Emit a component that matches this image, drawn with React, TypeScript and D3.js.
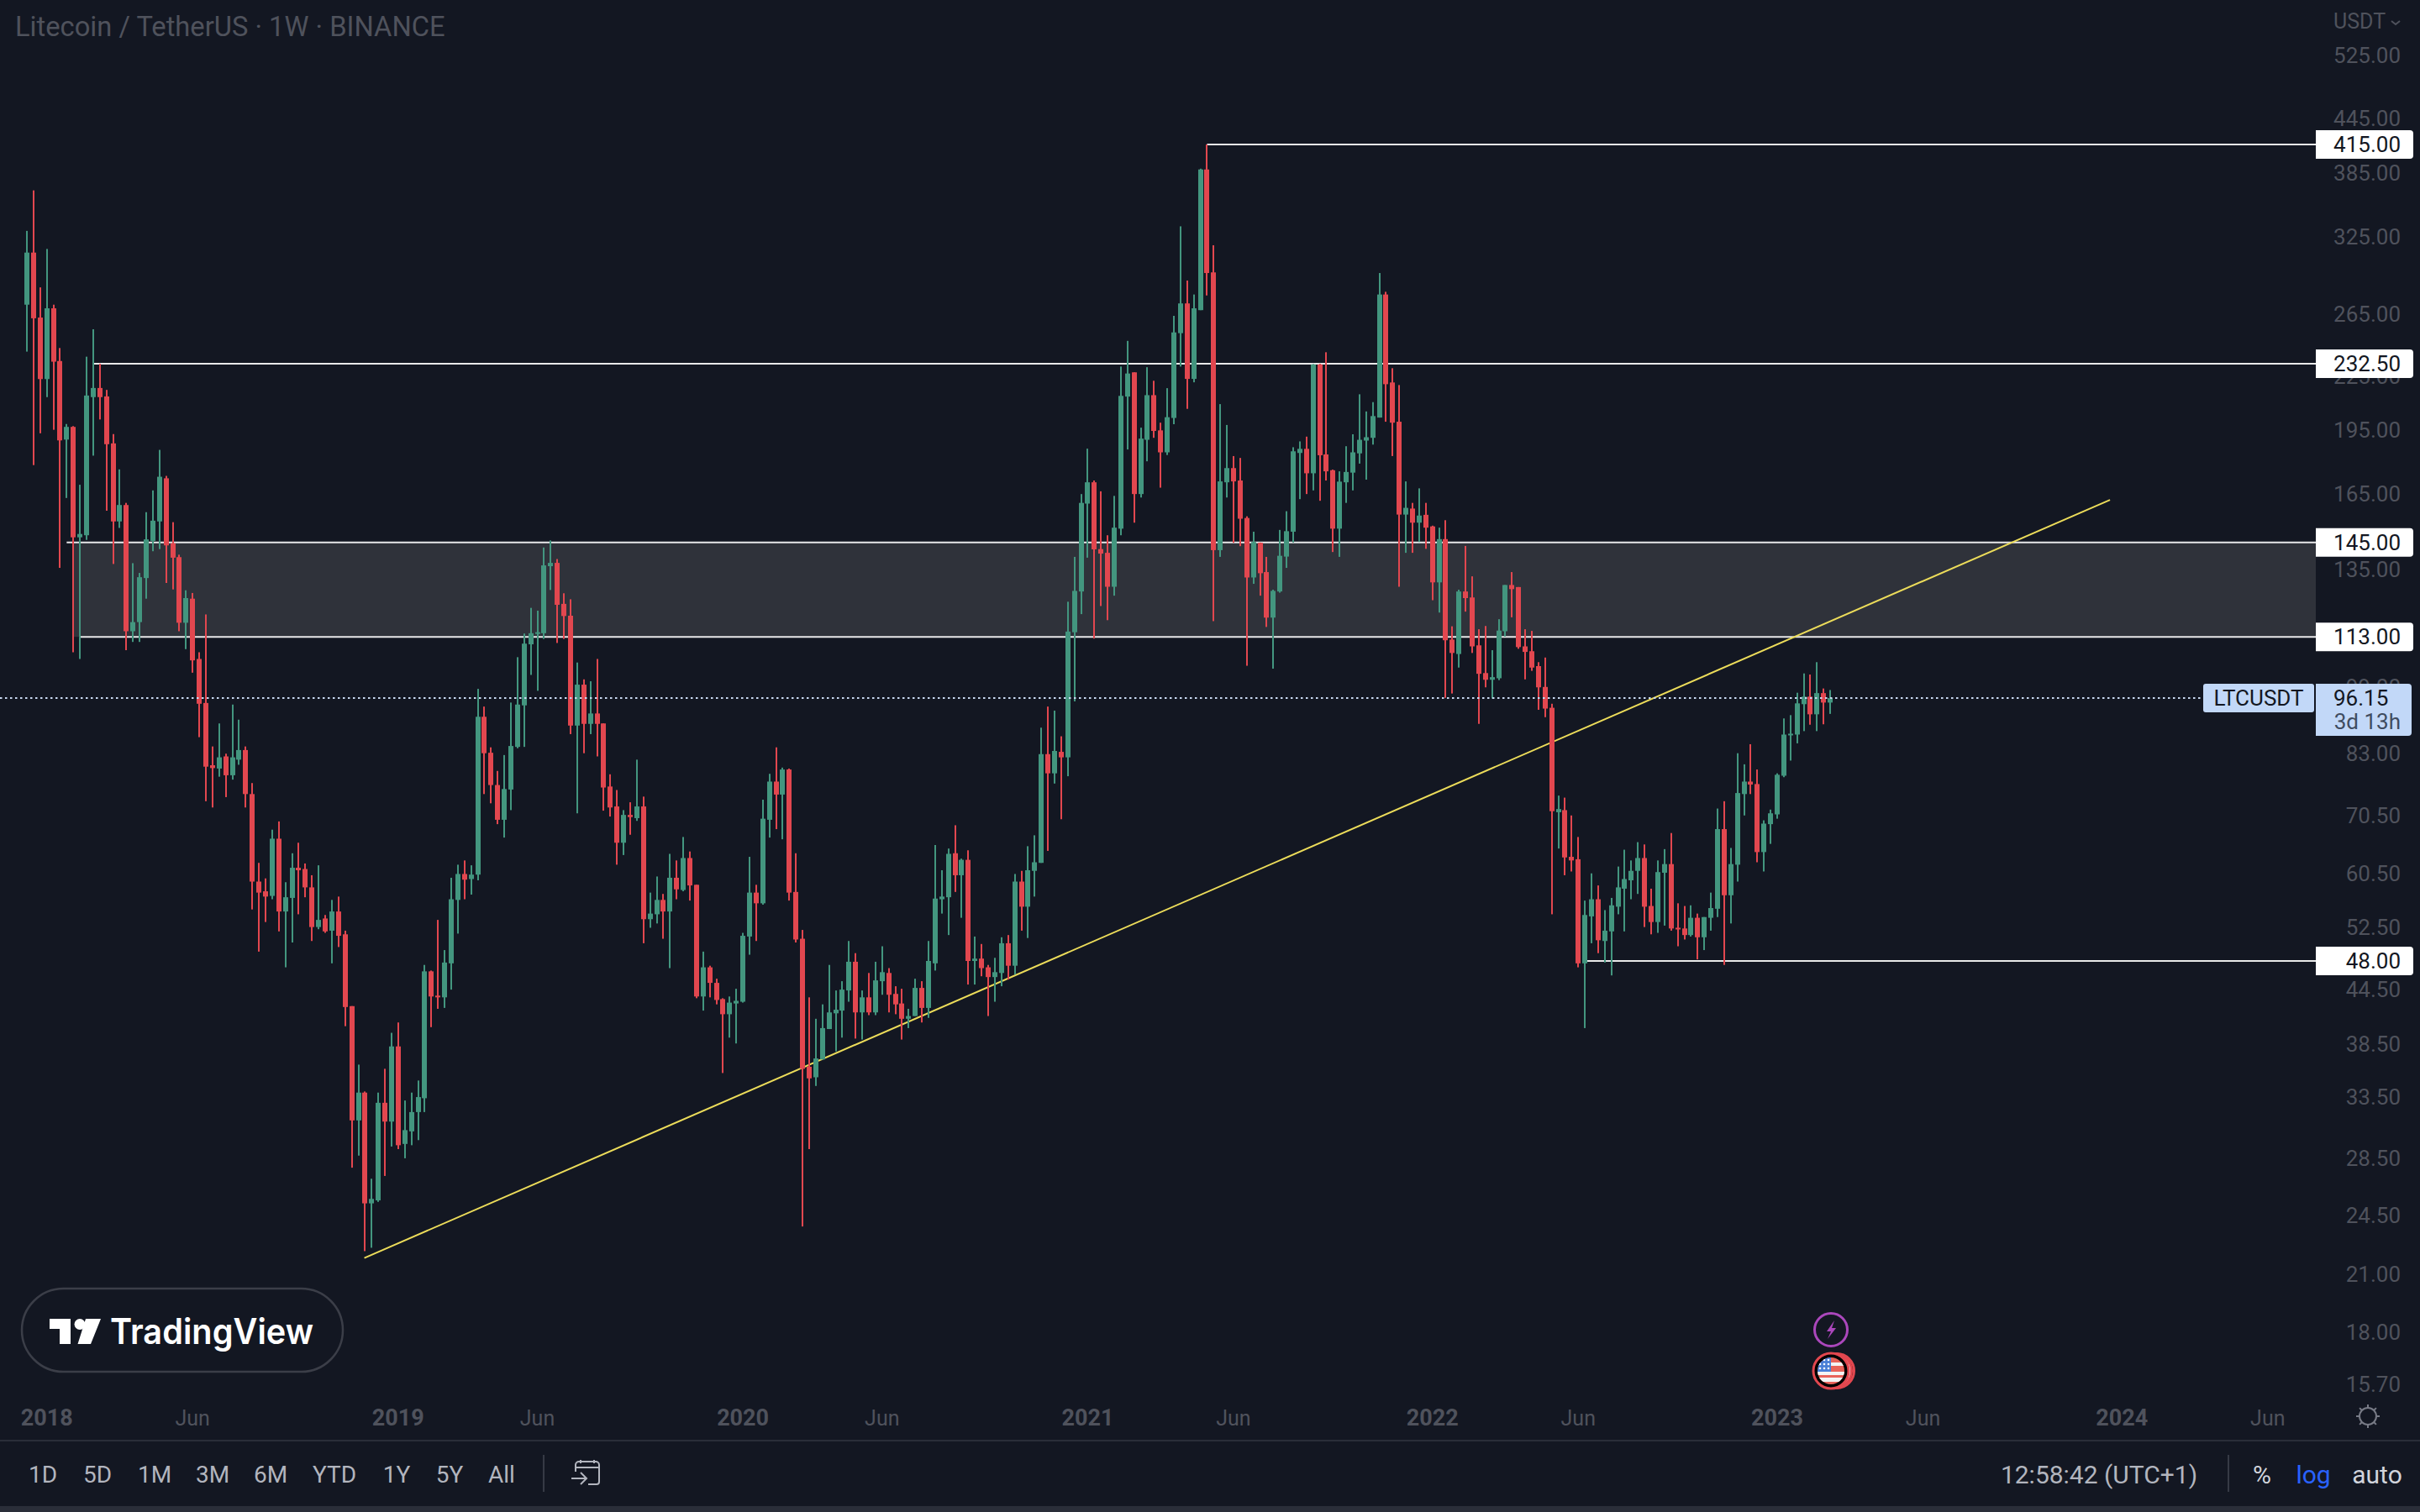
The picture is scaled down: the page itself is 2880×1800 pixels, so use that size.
import { useEffect, useRef } from "react";
import * as d3 from "d3";

// Weekly LTC/USDT candles, one entry per week starting at firstWeek
const firstWeek = new Date(Date.UTC(2017, 11, 11));

const opens = [
  271.8, 311.9, 262.7, 223.3, 269.2, 234.2, 190.3, 196.8, 147, 147.8,
  212.9, 218.1, 213.3, 188.4, 153.3, 160.1, 114.7, 117.5, 132, 145.6,
  153.3, 171.8, 144.7, 139.5, 117.3, 125, 106.6, 94.9, 80.5, 79.8,
  82.4, 78.4, 81.7, 83.8, 74.6, 59.2, 57.7, 57, 66.3, 54.7,
  56.7, 61.4, 61.2, 58.3, 52.5, 53.7, 52, 54.7, 51.5, 42.6,
  31.5, 33.9, 25.3, 25.5, 33, 31.4, 38.3, 29.6, 30.6, 32.2,
  33.4, 46.7, 43.8, 43.6, 47.7, 56.4, 60.4, 59.6, 60.3, 91.5,
  83.2, 76.4, 69.7, 75.5, 84.5, 94.3, 110.8, 114, 114.1, 136.2,
  137.4, 123.3, 119.5, 89.4, 99.6, 89.8, 92.3, 89.9, 76.1, 72.2,
  65.6, 70.6, 70, 72.2, 53.6, 54.3, 56.4, 54.7, 59.8, 57.9,
  63, 58.7, 43.7, 47.2, 45.3, 43.4, 41.7, 42.9, 43.1, 51.2,
  57.5, 55.9, 69.7, 77.1, 74.5, 79.6, 57.6, 50.9, 36.3, 35.3,
  37, 40.1, 41.8, 42.1, 44.4, 47.9, 41.9, 43.6, 41.9, 45.5,
  46.5, 44, 42.9, 41.2, 41.5, 44.7, 42.4, 47.7, 56.5, 56.8,
  63.8, 60.2, 62.7, 48, 48.3, 47.2, 46, 46.5, 50.3, 47.4,
  59.2, 55.4, 60.9, 62.2, 82.9, 78.8, 83.4, 82.2, 114.4, 127.4,
  160.7, 170, 142.5, 141.1, 129, 150.4, 213.2, 227.3, 164.8, 190.2,
  214, 195, 184, 201.5, 252.1, 272.7, 223.4, 267.9, 388.5, 296,
  142.1, 170, 176.5, 170.8, 154.7, 132.2, 144.9, 134.1, 118.9, 127.4,
  139.7, 149.2, 183.7, 185.7, 174.1, 232.1, 183, 175.5, 150.4, 170,
  174.4, 183.5, 189.8, 191.2, 201.7, 279.2, 221.3, 199.5, 156.1, 158.6,
  152.8, 156, 151.3, 130.5, 146.3, 112.2, 108, 127.4, 125.4, 110.5,
  102.7, 100.9, 101.3, 114.7, 129.6, 128.9, 110.2, 108.8, 104.6, 99,
  93.7, 71.1, 71.5, 63.2, 62.8, 47.7, 54, 56.5, 50.6, 51.9,
  55.4, 58.1, 59.4, 60.9, 63, 55.5, 53.2, 60.6, 62, 52.4,
  52.3, 51.4, 53.8, 51.1, 53.8, 55.1, 68, 57.1, 61.9, 74.6,
  77.1, 76.6, 64, 68.9, 70.7, 78.3, 87.2, 87.3, 94.6, 96.5,
  92.1, 97.4, 95,
];

const highs = [
  330.3, 367.6, 284.5, 314.9, 271.8, 242.4, 198.3, 197.2, 168.9, 236.9,
  254.7, 232.5, 217, 193.1, 175.9, 161, 137.3, 133.8, 157.1, 166.4,
  185.2, 172.9, 153, 140.4, 127.8, 126.9, 108.5, 119.9, 84.6, 89.9,
  83, 94.5, 90.8, 84.6, 76.8, 62.2, 59.7, 67.9, 69.4, 59.1,
  63.8, 65.6, 62.1, 60.2, 61.8, 54.2, 56.4, 56.9, 52, 42.6,
  36.5, 34, 27, 33.9, 36.1, 39.7, 40.8, 33.2, 33.9, 35,
  47.5, 46.8, 53.5, 49.4, 59.8, 61.9, 62.6, 61.8, 98.5, 94,
  84.4, 79.3, 82.7, 95, 107.1, 114, 122, 121.1, 143.1, 145.8,
  138.8, 126.8, 124.8, 105.6, 101, 100.5, 106.6, 89.9, 78.6, 75.4,
  71.5, 73, 81.7, 74.1, 57.5, 60, 57.3, 63.7, 62.6, 66.6,
  64.1, 58.7, 49.2, 47.4, 45.8, 43.5, 43.7, 44.6, 51.7, 63.2,
  58.7, 73.5, 78.7, 84.4, 80, 79.8, 63.8, 52.1, 43.6, 41.2,
  42.8, 47.5, 44.4, 45.5, 50.6, 49, 44.4, 46.5, 47.9, 49.9,
  47.1, 44.9, 44.6, 42.3, 45.8, 45.5, 50.6, 65.2, 61, 64.6,
  68.7, 62.9, 64.3, 51.2, 50.2, 47.5, 48.4, 51.1, 51.4, 60.4,
  60.9, 65, 66.9, 88.9, 94, 93, 86.9, 124, 139.6, 164.8,
  185.8, 170.8, 166, 147.8, 164, 230.8, 247, 227.3, 196.4, 230.4,
  222.3, 199, 218, 263.9, 334.3, 289.7, 279.2, 389.3, 415, 318,
  209, 197.8, 182.2, 181.3, 155.4, 149.2, 145, 139.6, 128, 149.9,
  157.5, 186.5, 189.4, 191.8, 232.3, 232.5, 239.7, 175.8, 175, 187,
  193, 214.5, 205, 210.1, 295.5, 281.2, 229.8, 219.8, 170.4, 161,
  167.3, 161, 151.6, 150.8, 153.8, 116.2, 128, 143.7, 132.6, 115.3,
  116.3, 109.1, 118.4, 129.6, 134.1, 128.9, 115.3, 114.8, 105.7, 107,
  94.7, 74.3, 73.9, 70.5, 66.6, 56.3, 60.5, 58.6, 54.9, 56.7,
  61.6, 64.4, 62.6, 65.7, 65.3, 58.1, 62.6, 64.5, 67.3, 55.9,
  55.5, 55.6, 54.4, 53.9, 57.5, 71.8, 73.2, 64.7, 83.1, 80.7,
  85.1, 79.6, 69.6, 71.6, 78.8, 91.1, 91.9, 97.5, 102.6, 102.3,
  105.7, 98.6, 98.2,
];

const lows = [
  240.1, 177.9, 193.5, 212.9, 195.3, 135.6, 163.1, 108.5, 106.6, 146,
  182.4, 200.7, 157.7, 137, 150.7, 109.1, 111.5, 111.5, 125, 141.7,
  142.5, 130.3, 128.1, 114.7, 109.4, 102.8, 86.7, 73.2, 72, 78.1,
  74, 77.5, 80.6, 72, 55, 49.2, 53.2, 56.5, 51.9, 47.2,
  50.4, 54.3, 56.8, 50.6, 52.2, 51.7, 47.7, 49.8, 40.4, 27.8,
  28.7, 22.3, 22.5, 25.4, 27.2, 29.4, 29.2, 28.5, 29.5, 29.9,
  32.2, 40.3, 42.3, 42.4, 44.5, 51.6, 56.5, 57.2, 59.4, 74.6,
  72.8, 68.9, 66.5, 71.5, 84.2, 84.5, 102.2, 98, 112.4, 127.9,
  111.2, 112.4, 87.4, 70.9, 83.1, 87.4, 82.4, 71.4, 70.3, 61.9,
  63.5, 67, 69.5, 50.3, 52.4, 53, 50.9, 47.1, 56.5, 57.7,
  56.3, 43.5, 42.1, 43.6, 42.8, 35.7, 39.2, 38.6, 43, 48.8,
  50.6, 55.7, 66.5, 68, 66.2, 56.3, 50.4, 23.8, 29.2, 34.5,
  37, 40.1, 37.8, 39.2, 43.1, 39.1, 39, 41.6, 41.6, 43.9,
  41.9, 41.7, 39, 40.2, 41.5, 40.8, 41.3, 46.8, 54.4, 51.4,
  57.6, 53.8, 45.1, 45.1, 46.1, 41.5, 43.1, 44.9, 45.7, 46.3,
  52, 51, 56.9, 62.2, 64.2, 76.7, 69.8, 78.2, 95.3, 120,
  139.3, 112.5, 122.6, 118.1, 126, 147.8, 185.4, 152.8, 163.3, 179.7,
  191.2, 167.6, 182.7, 198.2, 230.8, 206.4, 221.4, 267.9, 278.5, 117.8,
  139.6, 163.3, 144.9, 143.6, 104.7, 130, 126, 116, 103.9, 127,
  135.6, 145, 162.6, 164.8, 166.4, 161.9, 170.8, 141.4, 139.6, 161,
  166.4, 178.6, 171.2, 187.8, 201.7, 199.5, 182.2, 129, 141.1, 141.1,
  145.2, 142.6, 124.5, 120.5, 96.2, 97.3, 104.2, 120.8, 108.3, 89.8,
  98.9, 96, 100.8, 113.1, 119, 109.5, 101, 103.3, 93.2, 91.4,
  54.3, 64.6, 60.2, 60.8, 47.2, 40.2, 50.3, 49, 47.8, 46.2,
  54.3, 51.9, 56.5, 57.3, 52.5, 51.5, 51.7, 52.7, 52, 49.9,
  50.8, 51.2, 48.2, 49.4, 52, 53.9, 47.5, 53, 59.2, 70.5,
  74.6, 62.3, 60.8, 65.4, 69.9, 78, 81.5, 85.3, 88.1, 89.6,
  88.1, 89.7, 92.2,
];

const closes = [
  311.9, 262.2, 223.3, 269.2, 233.8, 189.9, 196.8, 147, 148.3, 213.8,
  218.1, 212.9, 188, 153.3, 160.1, 114.7, 117.5, 132.3, 146.2, 153.6,
  172.5, 143.9, 139.3, 117.3, 125.2, 106.2, 94.7, 80.2, 79.9, 82.2,
  78.4, 82.2, 83.8, 74.6, 59.2, 57.5, 56.9, 66.3, 54.7, 56.8,
  61.4, 61, 58.3, 52.5, 53.5, 51.9, 54.7, 51.3, 42.5, 31.5,
  33.9, 25.3, 25.6, 33, 31.4, 38.3, 29.5, 30.7, 32.2, 33.5,
  46.7, 43.7, 43.6, 47.8, 56.5, 60.4, 59.5, 60.3, 91.5, 83.1,
  76.4, 69.7, 75.6, 84.7, 94.5, 111, 114.1, 114.4, 136.5, 137.4,
  123, 119.4, 89.4, 99.6, 89.8, 92.3, 89.8, 75.9, 72, 65.6,
  70.6, 70.2, 72.2, 53.6, 54.4, 56.4, 54.7, 59.8, 58, 63,
  58.6, 43.7, 47.2, 45.3, 43.3, 41.7, 43, 43.2, 51.3, 57.5,
  55.9, 69.9, 77.1, 74.5, 79.6, 57.5, 50.8, 36.1, 35.2, 37.1,
  40.2, 41.9, 42.2, 44.5, 47.9, 41.9, 43.6, 41.9, 45.6, 46.6,
  43.9, 42.8, 41.2, 41.5, 44.7, 42.4, 48, 56.6, 56.9, 63.7,
  60.2, 62.7, 48, 48.3, 47.1, 46, 46.6, 50.3, 47.4, 59.2,
  55.4, 61, 62.3, 82.9, 78.8, 83.6, 82.2, 114.6, 127.6, 161,
  170, 142.4, 140.8, 129, 150.8, 213.6, 226.6, 164.8, 190.8, 214,
  194.7, 184, 201.9, 252.6, 272.7, 223.4, 269.2, 388.5, 295.5, 142.1,
  170.4, 176.5, 170.4, 154.4, 132.2, 145.2, 133.7, 118.9, 127.6, 140,
  149.4, 184.5, 185.7, 174.1, 232.1, 182.6, 175, 150.4, 170.3, 174.7,
  184, 190.2, 191.5, 202.5, 279.2, 220.3, 199, 156.1, 158.9, 152.8,
  155.7, 150.8, 130.5, 146.3, 112, 108.3, 127.4, 125.2, 110.2, 102.5,
  100.9, 101.6, 114.9, 129.6, 128.2, 110, 108.6, 104.2, 98.9, 93.5,
  71.3, 71.7, 63.1, 62.6, 47.7, 54.2, 56.5, 50.7, 52, 55.6,
  58.3, 59.6, 60.9, 63, 55.4, 53.2, 60.7, 62, 52.3, 52.2,
  51.4, 53.8, 51.1, 53.9, 55.2, 68, 57.1, 62, 74.8, 77.1,
  76.5, 64, 69, 70.9, 78.5, 87.3, 87.5, 94.8, 96.5, 92.1,
  97.4, 95, 96.15,
];

const priceTicks = [525, 445, 385, 325, 265, 225, 195, 165, 135, 99, 83, 70.5, 60.5, 52.5, 44.5, 38.5, 33.5, 28.5, 24.5, 21, 18, 15.7];
const yearTicks = [[2018, 0, 1], [2019, 0, 7], [2020, 0, 6], [2021, 0, 4], [2022, 0, 3], [2023, 0, 2], [2024, 0, 1]];
const juneTicks = [[2018, 5, 4], [2019, 5, 3], [2020, 5, 1], [2021, 5, 7], [2022, 5, 6], [2023, 5, 5], [2024, 5, 3]];

// Horizontal levels: price and the week they start from
const levelPrices = [415, 232.5, 145, 113, 48];
const levelStartWeeks = [178, 10, 6, 8, 235];
const zoneLow = 113;
const zoneHigh = 145;
const zoneStartWeek = 7;
const lastPrice = 96.15;

// Rising trendline, [week, price] end points
const trendWeeks = [50.9, 314.2];
const trendPrices = [21.9, 162.3];

const rangeButtons = ["1D", "5D", "1M", "3M", "6M", "YTD", "1Y", "5Y", "All"];

const BG = "#131722";
const UP = "#43967f";
const DOWN = "#e2474f";
const AXIS_TEXT = "#4f525c";
const FONT = "Roboto, sans-serif";
const WEEK_STEP = 7.89;
const PANE_RIGHT = 2756;

export default function App() {
  const svgRef = useRef<SVGSVGElement>(null);

  useEffect(() => {
    document.body.style.margin = "0";
    document.body.style.background = BG;
    const svg = d3.select(svgRef.current!);
    svg.selectAll("*").remove();

    const lastWeek = d3.utcMonday.offset(firstWeek, closes.length - 1);
    const x = d3.scaleUtc().domain([firstWeek, lastWeek]).range([32, 32 + WEEK_STEP * (closes.length - 1)]);
    const y = d3.scaleLog().domain([48, 415]).range([1144, 172]);
    const weekX = (i: number) => x(firstWeek) + (i * (x(lastWeek) - x(firstWeek))) / (closes.length - 1);

    svg.append("rect").attr("width", 2880).attr("height", 1800).attr("fill", BG);

    // ── Drawings that sit under the candles ─────────────────────────────────
    svg.append("rect")
      .attr("x", weekX(zoneStartWeek))
      .attr("y", y(zoneHigh))
      .attr("width", PANE_RIGHT - weekX(zoneStartWeek))
      .attr("height", y(zoneLow) - y(zoneHigh))
      .attr("fill", "#2f323a");

    svg.selectAll(".level")
      .data(levelPrices)
      .join("line")
      .attr("class", "level")
      .attr("x1", (_, i) => weekX(levelStartWeeks[i]))
      .attr("x2", PANE_RIGHT)
      .attr("y1", (d) => y(d))
      .attr("y2", (d) => y(d))
      .attr("stroke", "#e9e9ea")
      .attr("stroke-width", 2);

    svg.append("line")
      .attr("x1", weekX(trendWeeks[0]))
      .attr("y1", y(trendPrices[0]))
      .attr("x2", weekX(trendWeeks[1]))
      .attr("y2", y(trendPrices[1]))
      .attr("stroke", "#ecdc5a")
      .attr("stroke-width", 2);

    // ── Candles ─────────────────────────────────────────────────────────────
    const candle = svg.selectAll("g.candle")
      .data(closes.map((close, i) => ({ i, open: opens[i], high: highs[i], low: lows[i], close })))
      .join("g")
      .attr("class", "candle")
      .attr("fill", (d) => (d.close >= d.open ? UP : DOWN));

    candle.append("rect")
      .attr("x", (d) => Math.round(weekX(d.i)) - 1)
      .attr("y", (d) => y(d.high))
      .attr("width", 2)
      .attr("height", (d) => y(d.low) - y(d.high));

    candle.append("rect")
      .attr("x", (d) => Math.round(weekX(d.i)) - 3)
      .attr("y", (d) => y(Math.max(d.open, d.close)))
      .attr("width", 6)
      .attr("height", (d) => Math.max(2, Math.abs(y(d.open) - y(d.close))));

    // Last price line
    svg.append("line")
      .attr("x1", 0)
      .attr("x2", 2622)
      .attr("y1", y(lastPrice))
      .attr("y2", y(lastPrice))
      .attr("stroke", "#c8d8f0")
      .attr("stroke-width", 2)
      .attr("stroke-dasharray", "2.5 3.5");

    // ── Title ───────────────────────────────────────────────────────────────
    svg.append("text")
      .attr("x", 18)
      .attr("y", 34)
      .attr("dominant-baseline", "middle")
      .attr("fill", AXIS_TEXT)
      .attr("font-family", FONT)
      .attr("font-size", 32.7)
      .text("Litecoin / TetherUS · 1W · BINANCE");

    // ── Price axis ──────────────────────────────────────────────────────────
    svg.append("text")
      .attr("x", 2777)
      .attr("y", 27)
      .attr("dominant-baseline", "middle")
      .attr("fill", AXIS_TEXT)
      .attr("font-family", FONT)
      .attr("font-size", 25)
      .text("USDT");
    svg.append("path")
      .attr("d", "M2846 25l5 4 5-4")
      .attr("fill", "none")
      .attr("stroke", AXIS_TEXT)
      .attr("stroke-width", 2);

    svg.selectAll(".price-tick")
      .data(priceTicks)
      .join("text")
      .attr("class", "price-tick")
      .attr("x", 2857)
      .attr("y", (d) => y(d))
      .attr("text-anchor", "end")
      .attr("dominant-baseline", "central")
      .attr("fill", AXIS_TEXT)
      .attr("font-family", FONT)
      .attr("font-size", 26)
      .text((d) => d.toFixed(2));

    // Level labels on the price axis
    const levelLabel = svg.selectAll("g.level-label").data(levelPrices).join("g").attr("class", "level-label");
    levelLabel.append("path")
      .attr("d", (d) => `M${PANE_RIGHT} ${y(d) - 17}H2868a4 4 0 0 1 4 4V${y(d) + 13}a4 4 0 0 1 -4 4H${PANE_RIGHT}Z`)
      .attr("fill", "#ffffff");
    levelLabel.append("text")
      .attr("x", 2857)
      .attr("y", (d) => y(d))
      .attr("text-anchor", "end")
      .attr("dominant-baseline", "central")
      .attr("fill", "#131722")
      .attr("font-family", FONT)
      .attr("font-size", 26)
      .text((d) => d.toFixed(2));

    // Last price label
    const lastY = y(lastPrice);
    svg.append("rect").attr("x", 2622).attr("y", lastY - 17).attr("width", 132).attr("height", 34).attr("rx", 3).attr("fill", "#c2d8f8");
    svg.append("text")
      .attr("x", 2688)
      .attr("y", lastY)
      .attr("text-anchor", "middle")
      .attr("dominant-baseline", "central")
      .attr("fill", "#131722")
      .attr("font-family", FONT)
      .attr("font-size", 26)
      .text("LTCUSDT");
    svg.append("path")
      .attr("d", `M${PANE_RIGHT} ${lastY - 17}H2866a4 4 0 0 1 4 4V${lastY + 41}a4 4 0 0 1 -4 4H${PANE_RIGHT}Z`)
      .attr("fill", "#c2d8f8");
    svg.append("text")
      .attr("x", 2777)
      .attr("y", lastY)
      .attr("dominant-baseline", "central")
      .attr("fill", "#131722")
      .attr("font-family", FONT)
      .attr("font-size", 26)
      .text(lastPrice.toFixed(2));
    svg.append("text")
      .attr("x", 2857)
      .attr("y", lastY + 28)
      .attr("text-anchor", "end")
      .attr("dominant-baseline", "central")
      .attr("fill", "#3f4c60")
      .attr("font-family", FONT)
      .attr("font-size", 26)
      .text("3d 13h");

    // ── Time axis ───────────────────────────────────────────────────────────
    const tickDate = (t: number[]) => new Date(Date.UTC(t[0], t[1], t[2]));
    svg.selectAll(".year-tick")
      .data(yearTicks)
      .join("text")
      .attr("class", "year-tick")
      .attr("x", (d) => x(tickDate(d)))
      .attr("y", 1688)
      .attr("text-anchor", "middle")
      .attr("dominant-baseline", "central")
      .attr("fill", AXIS_TEXT)
      .attr("font-family", FONT)
      .attr("font-weight", 700)
      .attr("font-size", 27)
      .text((d) => String(d[0]));
    svg.selectAll(".june-tick")
      .data(juneTicks)
      .join("text")
      .attr("class", "june-tick")
      .attr("x", (d) => x(tickDate(d)))
      .attr("y", 1688)
      .attr("text-anchor", "middle")
      .attr("dominant-baseline", "central")
      .attr("fill", AXIS_TEXT)
      .attr("font-family", FONT)
      .attr("font-size", 25)
      .text("Jun");

    // Settings icon
    const gear = svg.append("g").attr("transform", "translate(2818,1686)").attr("stroke", "#787b86").attr("stroke-width", 2).attr("fill", "none");
    gear.append("circle").attr("r", 10);
    d3.range(8).forEach((k) => {
      const a = (k * Math.PI) / 4;
      gear.append("line")
        .attr("x1", 10 * Math.cos(a)).attr("y1", 10 * Math.sin(a))
        .attr("x2", 14 * Math.cos(a)).attr("y2", 14 * Math.sin(a));
    });

    // ── Bottom toolbar ──────────────────────────────────────────────────────
    svg.append("rect").attr("x", 0).attr("y", 1714).attr("width", 2880).attr("height", 2).attr("fill", "#2a2e39");
    svg.append("rect").attr("x", 0).attr("y", 1793).attr("width", 2880).attr("height", 7).attr("fill", "#2a2e39");

    const buttonX = [51, 116, 184, 253, 322, 398, 472, 535, 597];
    svg.selectAll(".range-button")
      .data(rangeButtons)
      .join("text")
      .attr("class", "range-button")
      .attr("x", (_, i) => buttonX[i])
      .attr("y", 1755)
      .attr("text-anchor", "middle")
      .attr("dominant-baseline", "central")
      .attr("fill", "#b2b5be")
      .attr("font-family", FONT)
      .attr("font-size", 28)
      .text((d) => d);

    [647, 2652].forEach((dx) => {
      svg.append("line").attr("x1", dx).attr("x2", dx).attr("y1", 1732).attr("y2", 1776).attr("stroke", "#363a45").attr("stroke-width", 2);
    });

    // Go-to-date icon
    svg.append("path")
      .attr("d", "M685 1752v-8a4 4 0 0 1 4-4h20a4 4 0 0 1 4 4v20a3 3 0 0 1 -3 3h-10M685 1747h28M691 1738v4M707 1738v4M680 1760h18M691 1753l7 7-7 7")
      .attr("fill", "none")
      .attr("stroke", "#b2b5be")
      .attr("stroke-width", 2);

    const bottomRight: [string, number, string][] = [
      ["12:58:42 (UTC+1)", 2498, "#b2b5be"],
      ["%", 2692, "#d1d4dc"],
      ["log", 2753, "#2962ff"],
      ["auto", 2829, "#d1d4dc"],
    ];
    bottomRight.forEach(([label, tx, fill]) => {
      svg.append("text")
        .attr("x", tx)
        .attr("y", 1755)
        .attr("text-anchor", "middle")
        .attr("dominant-baseline", "central")
        .attr("fill", fill)
        .attr("font-family", FONT)
        .attr("font-size", 30)
        .text(label);
    });

    // ── TradingView badge ───────────────────────────────────────────────────
    svg.append("rect")
      .attr("x", 26).attr("y", 1534).attr("width", 382).attr("height", 99).attr("rx", 49.5)
      .attr("fill", BG).attr("stroke", "#3b3e48").attr("stroke-width", 2.5);
    svg.append("path")
      .attr("d", "M59 1570H84V1600H71V1582H59Z M102 1570H120L108 1600H92.5Z")
      .attr("fill", "#ffffff");
    svg.append("circle").attr("cx", 95).attr("cy", 1576.5).attr("r", 6.5).attr("fill", "#ffffff");
    svg.append("text")
      .attr("x", 131)
      .attr("y", 1600)
      .attr("fill", "#ffffff")
      .attr("font-family", "Inter, sans-serif")
      .attr("font-weight", 600)
      .attr("font-size", 42)
      .attr("textLength", 242)
      .attr("lengthAdjust", "spacingAndGlyphs")
      .text("TradingView");

    // ── Event markers ───────────────────────────────────────────────────────
    svg.append("circle").attr("cx", 2179).attr("cy", 1583).attr("r", 19.5).attr("fill", BG).attr("stroke", "#ab47bc").attr("stroke-width", 3);
    svg.append("path")
      .attr("d", "M2183 1572l-9 13h5l-4 9 10-13h-5z")
      .attr("fill", "#ab47bc");

    const defs = svg.append("defs");
    defs.append("clipPath").attr("id", "flag-clip").append("circle").attr("cx", 2179).attr("cy", 1632).attr("r", 16);
    svg.append("circle").attr("cx", 2186).attr("cy", 1632).attr("r", 20.5).attr("fill", "#000").attr("stroke", DOWN).attr("stroke-width", 3);
    svg.append("circle").attr("cx", 2183).attr("cy", 1632).attr("r", 20.5).attr("fill", "#eee").attr("stroke", DOWN).attr("stroke-width", 3);
    svg.append("circle").attr("cx", 2179).attr("cy", 1632).attr("r", 21).attr("fill", "#000").attr("stroke", DOWN).attr("stroke-width", 3);
    const flag = svg.append("g").attr("clip-path", "url(#flag-clip)");
    flag.append("rect").attr("x", 2160).attr("y", 1614).attr("width", 40).attr("height", 36).attr("fill", "#e8635a");
    [1622, 1633, 1640].forEach((sy, k) => {
      flag.append("rect").attr("x", 2160).attr("y", sy).attr("width", 40).attr("height", k === 2 ? 5 : 4).attr("fill", "#f4f4f4");
    });
    flag.append("rect").attr("x", 2160).attr("y", 1614).attr("width", 19).attr("height", 19).attr("fill", "#4a7fd6");
    d3.range(3).forEach((r) => d3.range(3).forEach((c) => {
      flag.append("circle").attr("cx", 2166 + c * 5).attr("cy", 1619 + r * 5).attr("r", 1.3).attr("fill", "#fff");
    }));
  }, []);

  return <svg ref={svgRef} width={2880} height={1800} style={{ display: "block" }} />;
}
